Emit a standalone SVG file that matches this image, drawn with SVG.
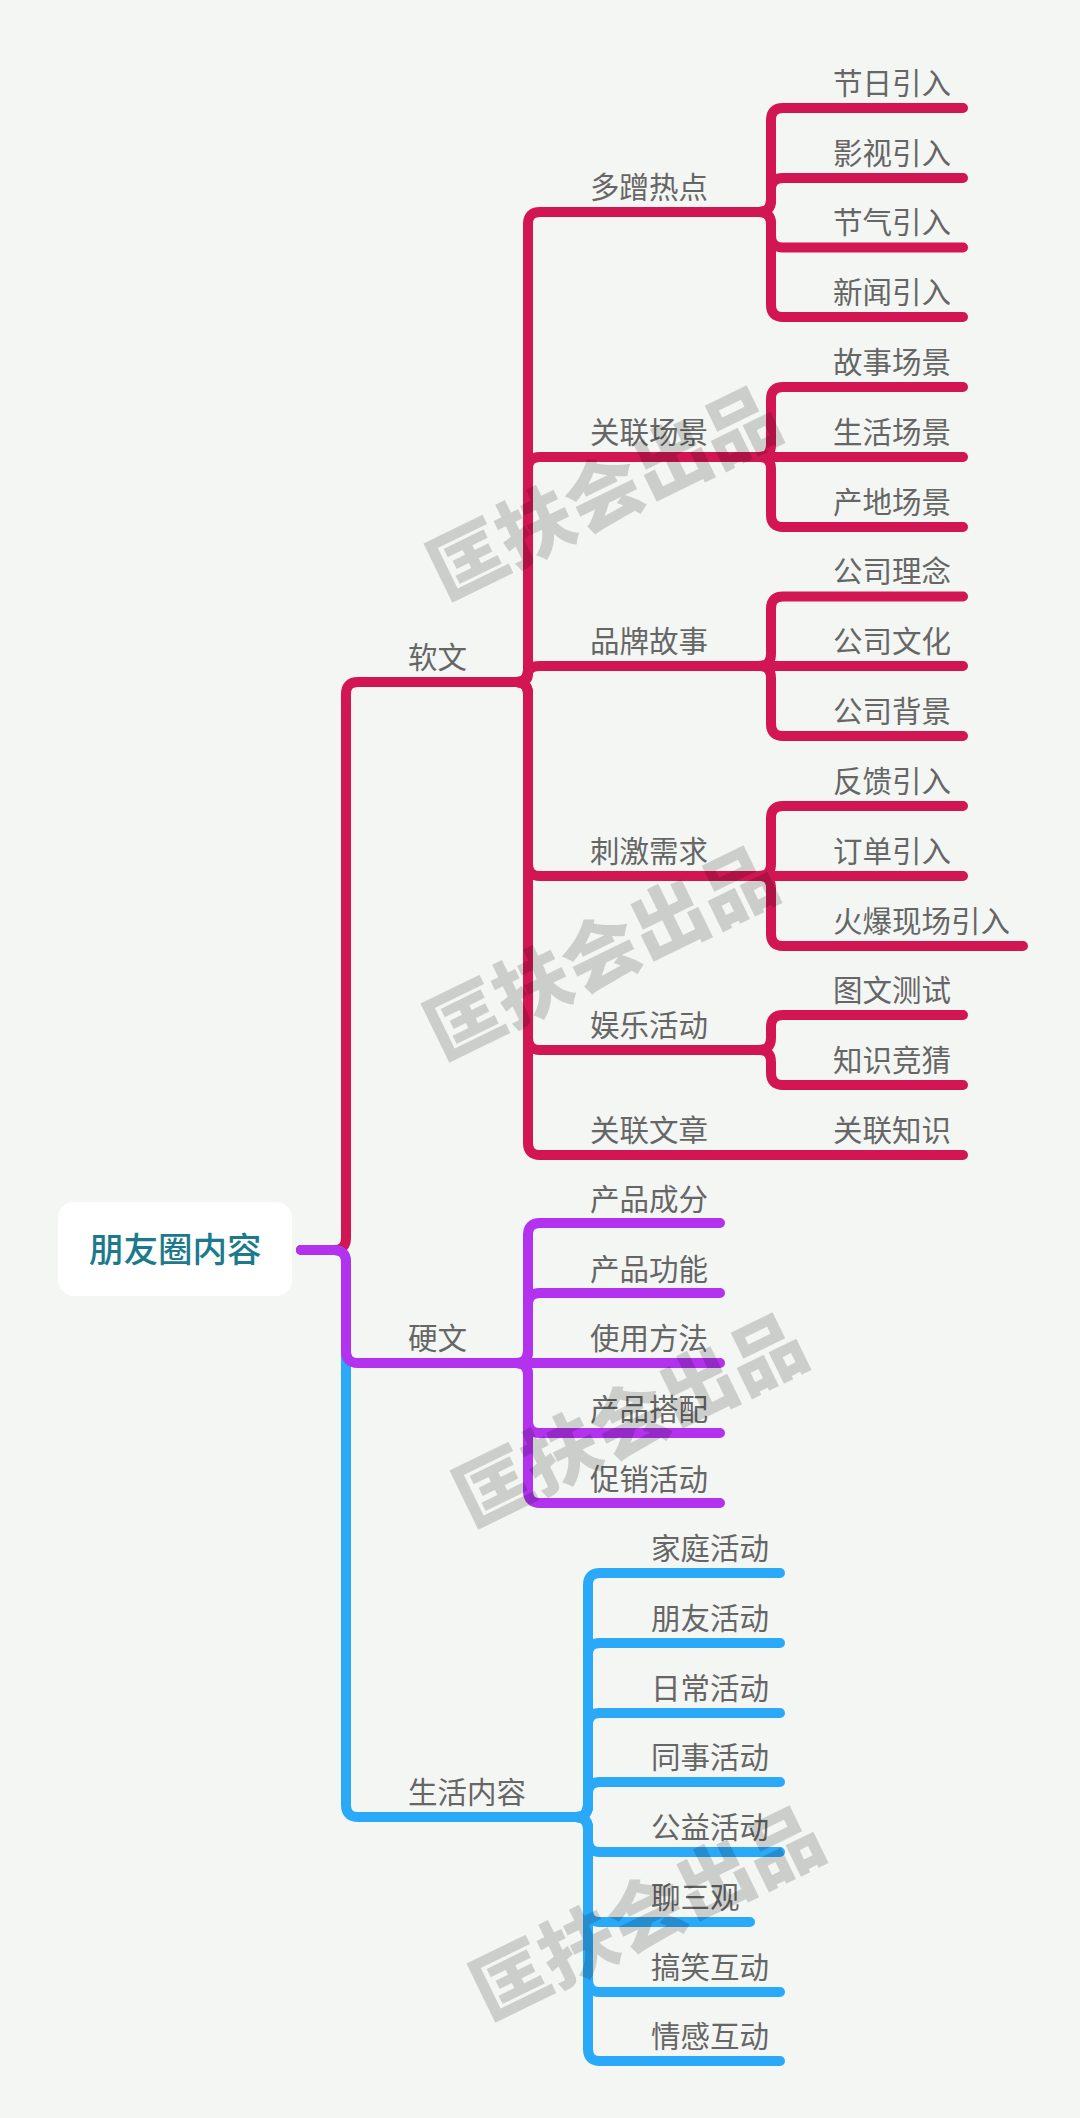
<svg xmlns="http://www.w3.org/2000/svg" width="1080" height="2118" viewBox="0 0 1080 2118">
<style>
.c{fill:none;stroke-width:10;stroke-linecap:round;stroke-linejoin:round}
.r{stroke:#d11653}.p{stroke:#b232ee}.b{stroke:#2aa9f8}
text{font-family:"Noto Sans CJK SC","Noto Sans",sans-serif}
.t{font-size:29.5px;fill:#666}
.root{font-size:34.5px;font-weight:500;fill:#1d7a8c}
.w{font-size:76px;font-weight:900;fill:#000;fill-opacity:.16}
</style>
<rect width="1080" height="2118" fill="#f4f6f4"/>
<g id="connectors">
<g class="c b">
<path d="M301 1250H334Q346 1250 346 1262V1805Q346 1817 358 1817H576"/>
<path d="M576 1817Q588 1817 588 1805V1585Q588 1573 600 1573H780"/>
<path d="M576 1817Q588 1817 588 1805V1655Q588 1643 600 1643H780"/>
<path d="M576 1817Q588 1817 588 1805V1725Q588 1713 600 1713H780"/>
<path d="M576 1817Q588 1817 588 1805V1794Q588 1782 600 1782H780"/>
<path d="M576 1817Q588 1817 588 1829V1840Q588 1852 600 1852H780"/>
<path d="M576 1817Q588 1817 588 1829V1910Q588 1922 600 1922H750"/>
<path d="M576 1817Q588 1817 588 1829V1980Q588 1992 600 1992H780"/>
<path d="M576 1817Q588 1817 588 1829V2049Q588 2061 600 2061H780"/>
</g>
<g class="c r">
<path d="M301 1250H334Q346 1250 346 1238V694Q346 682 358 682H516"/>
<path d="M516 682Q528 682 528 670V224Q528 212 540 212H759"/>
<path d="M516 682Q528 682 528 670V469Q528 457 540 457H771"/>
<path d="M516 682Q528 682 528 674Q528 666 540 666H759"/>
<path d="M516 682Q528 682 528 694V864Q528 876 540 876H759"/>
<path d="M516 682Q528 682 528 694V1038Q528 1050 540 1050H759"/>
<path d="M516 682Q528 682 528 694V1143Q528 1155 540 1155H963"/>
<path d="M759 212Q771 212 771 200V120Q771 108 783 108H963"/>
<path d="M759 212Q771 212 771 200V190Q771 178 783 178H963"/>
<path d="M759 212Q771 212 771 224V235.500Q771 247.500 783 247.500H963"/>
<path d="M759 212Q771 212 771 224V305Q771 317 783 317H963"/>
<path d="M759 457Q771 457 771 445V399Q771 387 783 387H963"/>
<path d="M759 457H963"/>
<path d="M759 457Q771 457 771 469V515Q771 527 783 527H963"/>
<path d="M759 666Q771 666 771 654V608.500Q771 596.500 783 596.500H963"/>
<path d="M759 666H963"/>
<path d="M759 666Q771 666 771 678V724Q771 736 783 736H963"/>
<path d="M759 876Q771 876 771 864V818Q771 806 783 806H963"/>
<path d="M759 876H963"/>
<path d="M759 876Q771 876 771 888V934Q771 946 783 946H1023"/>
<path d="M759 1050Q771 1050 771 1038V1027Q771 1015 783 1015H963"/>
<path d="M759 1050Q771 1050 771 1062V1073Q771 1085 783 1085H963"/>
</g>
<g class="c p">
<path d="M301 1250H334Q346 1250 346 1262V1351Q346 1363 358 1363H516"/>
<path d="M516 1363Q528 1363 528 1351V1235Q528 1223 540 1223H720"/>
<path d="M516 1363Q528 1363 528 1351V1305Q528 1293 540 1293H720"/>
<path d="M516 1363H720"/>
<path d="M516 1363Q528 1363 528 1375V1421Q528 1433 540 1433H720"/>
<path d="M516 1363Q528 1363 528 1375V1491Q528 1503 540 1503H720"/>
</g>
</g>
<g id="root"><rect x="58" y="1202" width="234" height="94" rx="16" fill="#fff"/><text class="root" x="89" y="1262">朋友圈内容</text></g>
<g id="n-ruanwen"><text class="t" x="408" y="668">软文</text></g>
<g id="n-yingwen"><text class="t" x="408" y="1349">硬文</text></g>
<g id="n-shenghuo"><text class="t" x="408" y="1803">生活内容</text></g>
<g id="n-a1"><text class="t" x="590" y="198">多蹭热点</text></g>
<g id="n-a2"><text class="t" x="590" y="442.500">关联场景</text></g>
<g id="n-a3"><text class="t" x="590" y="652">品牌故事</text></g>
<g id="n-a4"><text class="t" x="590" y="862">刺激需求</text></g>
<g id="n-a5"><text class="t" x="590" y="1036">娱乐活动</text></g>
<g id="n-a6"><text class="t" x="590" y="1140.500">关联文章</text></g>
<g id="n-l1"><text class="t" x="833" y="93.500">节日引入</text></g>
<g id="n-l2"><text class="t" x="833" y="163.500">影视引入</text></g>
<g id="n-l3"><text class="t" x="833" y="233">节气引入</text></g>
<g id="n-l4"><text class="t" x="833" y="303">新闻引入</text></g>
<g id="n-l5"><text class="t" x="833" y="373">故事场景</text></g>
<g id="n-l6"><text class="t" x="833" y="442.500">生活场景</text></g>
<g id="n-l7"><text class="t" x="833" y="512.500">产地场景</text></g>
<g id="n-l8"><text class="t" x="833" y="582">公司理念</text></g>
<g id="n-l9"><text class="t" x="833" y="652">公司文化</text></g>
<g id="n-l10"><text class="t" x="833" y="722">公司背景</text></g>
<g id="n-l11"><text class="t" x="833" y="792">反馈引入</text></g>
<g id="n-l12"><text class="t" x="833" y="862">订单引入</text></g>
<g id="n-l13"><text class="t" x="833" y="932">火爆现场引入</text></g>
<g id="n-l14"><text class="t" x="833" y="1001">图文测试</text></g>
<g id="n-l15"><text class="t" x="833" y="1071">知识竞猜</text></g>
<g id="n-l16"><text class="t" x="833" y="1141">关联知识</text></g>
<g id="n-p1"><text class="t" x="590" y="1210">产品成分</text></g>
<g id="n-p2"><text class="t" x="590" y="1280">产品功能</text></g>
<g id="n-p3"><text class="t" x="590" y="1349">使用方法</text></g>
<g id="n-p4"><text class="t" x="590" y="1420">产品搭配</text></g>
<g id="n-p5"><text class="t" x="590" y="1490">促销活动</text></g>
<g id="n-b1"><text class="t" x="651" y="1559">家庭活动</text></g>
<g id="n-b2"><text class="t" x="651" y="1629">朋友活动</text></g>
<g id="n-b3"><text class="t" x="651" y="1698.500">日常活动</text></g>
<g id="n-b4"><text class="t" x="651" y="1768">同事活动</text></g>
<g id="n-b5"><text class="t" x="651" y="1838">公益活动</text></g>
<g id="n-b6"><text class="t" x="651" y="1908">聊三观</text></g>
<g id="n-b7"><text class="t" x="651" y="1977.500">搞笑互动</text></g>
<g id="n-b8"><text class="t" x="651" y="2047">情感互动</text></g>
<g id="watermarks">
<text class="w" text-anchor="middle" transform="translate(616 518) rotate(-26)">匡扶会出品</text>
<text class="w" text-anchor="middle" transform="translate(613 978) rotate(-26)">匡扶会出品</text>
<text class="w" text-anchor="middle" transform="translate(642 1445) rotate(-26)">匡扶会出品</text>
<text class="w" text-anchor="middle" transform="translate(659 1938) rotate(-26)">匡扶会出品</text>
</g>
</svg>
